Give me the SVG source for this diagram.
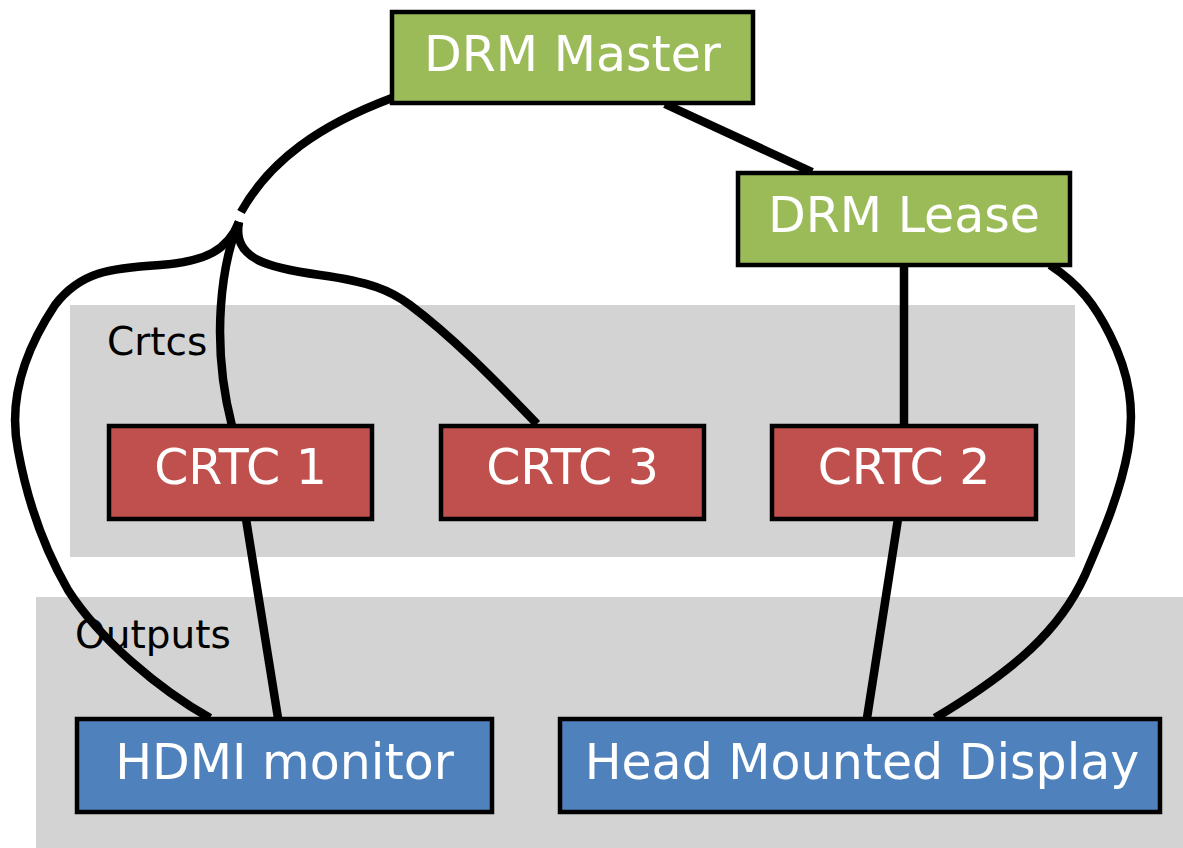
<svg xmlns="http://www.w3.org/2000/svg" width="1183" height="848" viewBox="0 0 1183 848">
<style>
.cluster{fill:#d3d3d3;stroke:none}
.clabel{font-family:"DejaVu Sans",sans-serif;font-size:39px;fill:#000}
.node rect{stroke:#000;stroke-width:4.5}
.node text{font-family:"DejaVu Sans",sans-serif;font-size:49px;fill:#fff;text-anchor:middle}
.green{fill:#9bbb59}
.red{fill:#c0504d}
.blue{fill:#4f81bd}
#edges path{fill:none;stroke:#000;stroke-width:8.5}
</style>
<rect width="1183" height="848" fill="#fff"/>
<g id="cluster_crtcs">
<rect class="cluster" x="70" y="305" width="1005" height="252"/>
<text class="clabel" x="107" y="355">Crtcs</text>
</g>
<g id="cluster_outputs">
<rect class="cluster" x="36" y="597" width="1147" height="251"/>
<text class="clabel" x="75" y="648">Outputs</text>
</g>
<g id="edges">
<path d="M392,98 C320,125 270,160 241,212"/>
<path d="M239,222 C228,250 205,262 160,265 C110,268 80,272 55,305 C25,350 8,400 18,450 C28,505 45,550 68,590 C100,640 160,690 210,718"/>
<path d="M239,222 C222,262 210,340 232,426"/>
<path d="M239,222 C232,260 270,268 320,275 C370,282 390,290 410,305 C450,335 490,375 537,424"/>
<path d="M665,104 L812,172"/>
<path d="M904,265 L904,426"/>
<path d="M1050,265 C1080,285 1095,305 1110,335 C1130,375 1135,410 1128,450 C1120,495 1100,540 1085,575 C1060,630 1015,670 935,718"/>
<path d="M246,519 L278,718"/>
<path d="M898,519 L867,718"/>
</g>
<g id="drm_master" class="node">
<rect class="green" x="392" y="12" width="361" height="91"/>
<text x="572.5" y="71">DRM Master</text>
</g>
<g id="drm_lease" class="node">
<rect class="green" x="738" y="173" width="332" height="92"/>
<text x="904" y="232">DRM Lease</text>
</g>
<g id="crtc1" class="node">
<rect class="red" x="109" y="426" width="263" height="93"/>
<text x="240.5" y="484">CRTC 1</text>
</g>
<g id="crtc3" class="node">
<rect class="red" x="441" y="426" width="263" height="93"/>
<text x="572.5" y="484">CRTC 3</text>
</g>
<g id="crtc2" class="node">
<rect class="red" x="772" y="426" width="264" height="93"/>
<text x="904" y="484">CRTC 2</text>
</g>
<g id="hdmi" class="node">
<rect class="blue" x="77" y="719" width="415" height="93"/>
<text x="284.5" y="779">HDMI monitor</text>
</g>
<g id="hmd" class="node">
<rect class="blue" x="560" y="719" width="600" height="93"/>
<text x="862" y="779">Head Mounted Display</text>
</g>
</svg>
